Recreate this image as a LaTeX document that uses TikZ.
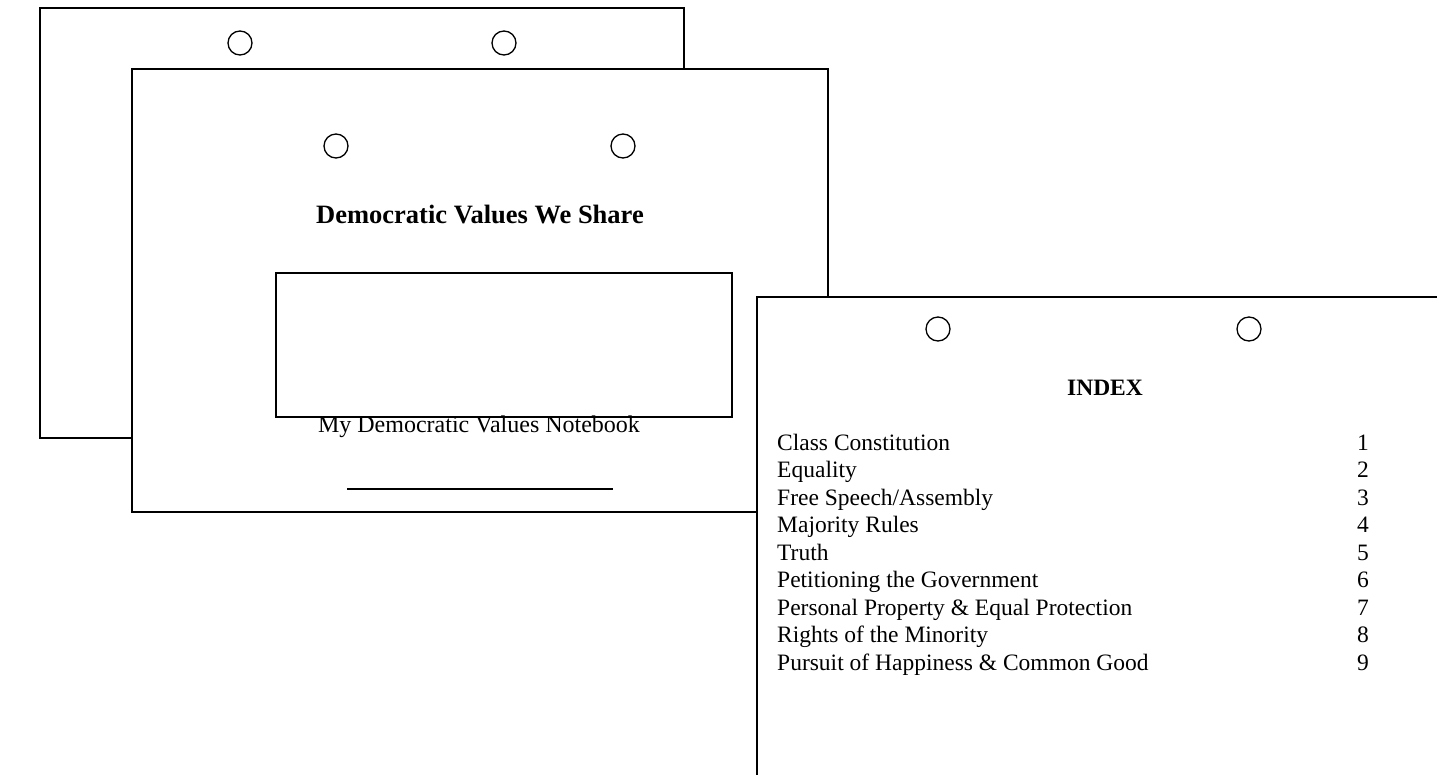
\documentclass[tikz,border=0pt]{standalone}
\usepackage{fontspec}
\setmainfont{Liberation Serif}
\usepackage{tikz}

\tikzset{
  page/.style={draw, fill=white, line width=1.6pt},
  hole/.style={draw, circle, line width=1.3pt, minimum size=24pt, inner sep=0pt},
  item/.style={anchor=base west, inner sep=0pt, font=\fontsize{23.5}{26}\selectfont},
  num/.style={anchor=base, inner sep=0pt, font=\fontsize{23.5}{26}\selectfont}
}

\begin{document}
\begin{tikzpicture}[x=1pt,y=-1pt]
\useasboundingbox (0,0) rectangle (1437,774);
\clip (0,0) rectangle (1437,774);

\draw[page] (40,8) rectangle (684,438);
\node[hole] (b1) at (240,43) {};
\node[hole] (b2) at (504,43) {};

\draw[page] (132,69) rectangle (828,512);
\node[hole] (c1) at (336,146) {};
\node[hole] (c2) at (623,146) {};
\node[anchor=base, inner sep=0pt, font=\fontsize{26.5}{30}\selectfont\bfseries] (title) at (480,223) {Democratic Values We Share};
\node[anchor=base, inner sep=0pt, font=\fontsize{24}{27}\selectfont] (name) at (479,432) {My Democratic Values Notebook};
\draw[page, fill=none] (276,273) rectangle (732,417);
\coordinate (s1) at (347,489);
\coordinate (s2) at (613,489);
\draw[line width=1.6pt] (s1) -- (s2);

\draw[page] (757,297) rectangle (1460,800);
\node[hole] (i1) at (938,329) {};
\node[hole] (i2) at (1249,329) {};
\node[anchor=base, inner sep=0pt, font=\fontsize{23.5}{26}\selectfont\bfseries] (index) at (1105,395) {INDEX};

\node[item] (t1) at (777,450) {Class Constitution};
\node[item] (t2) at (777,477.5) {Equality};
\node[item] (t3) at (777,505) {Free Speech/Assembly};
\node[item] (t4) at (777,532.5) {Majority Rules};
\node[item] (t5) at (777,560) {Truth};
\node[item] (t6) at (777,587.5) {Petitioning the Government};
\node[item] (t7) at (777,615) {Personal Property \& Equal Protection};
\node[item] (t8) at (777,642.5) {Rights of the Minority};
\node[item] (t9) at (777,670) {Pursuit of Happiness \& Common Good};

\node[num] (n1) at (1363,450) {1};
\node[num] (n2) at (1363,477.5) {2};
\node[num] (n3) at (1363,505) {3};
\node[num] (n4) at (1363,532.5) {4};
\node[num] (n5) at (1363,560) {5};
\node[num] (n6) at (1363,587.5) {6};
\node[num] (n7) at (1363,615) {7};
\node[num] (n8) at (1363,642.5) {8};
\node[num] (n9) at (1363,670) {9};
\end{tikzpicture}
\end{document}
